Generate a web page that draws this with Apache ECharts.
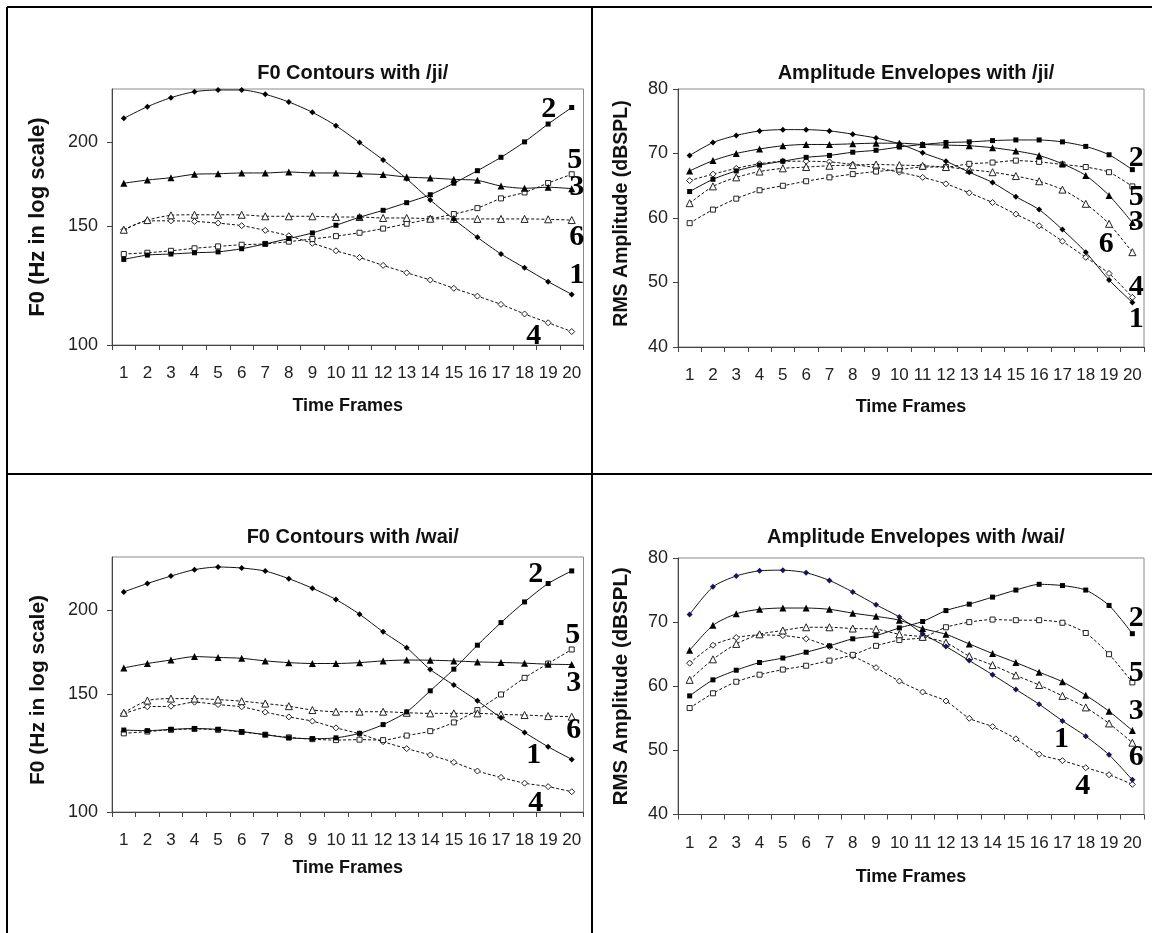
<!DOCTYPE html>
<html>
<head>
<meta charset="utf-8">
<script src="https://cdn.jsdelivr.net/npm/echarts@6/dist/echarts.min.js"></script>
<style>
  html, body { margin: 0; padding: 0; background: #fff; }
  #main { width: 1152px; height: 933px; }
</style>
</head>
<body>
<div id="main"></div>
<script>
// Time frame categories
const frames = ['1','2','3','4','5','6','7','8','9','10','11','12','13','14','15','16','17','18','19','20'];

// F0 (Hz) with /ji/, tones 1-6
const f0Ji1 = [217.1, 225.9, 233.0, 237.8, 239.2, 239.2, 235.7, 229.6, 221.6, 211.7, 199.8, 188.3, 176.5, 164.2, 153.7, 144.5, 136.5, 130.2, 124.2, 118.9];
const f0Ji2 = [134.0, 136.0, 136.5, 137.1, 137.5, 139.0, 141.3, 143.9, 146.7, 150.6, 154.8, 158.5, 162.7, 167.2, 173.9, 181.5, 190.0, 200.3, 212.9, 225.3];
const f0Ji3 = [173.9, 175.8, 177.2, 179.3, 179.6, 180.1, 180.1, 180.7, 180.1, 180.1, 179.6, 179.1, 177.6, 177.0, 176.2, 175.6, 172.2, 170.9, 171.5, 170.7];
const f0Ji4 = [148.3, 152.9, 152.9, 152.6, 151.7, 150.4, 148.0, 145.3, 141.6, 138.0, 134.9, 131.3, 128.0, 124.9, 121.4, 118.2, 114.9, 111.2, 107.9, 104.7];
const f0Ji5 = [136.5, 137.1, 138.0, 139.2, 140.1, 140.9, 141.3, 142.4, 143.7, 145.1, 146.8, 148.9, 151.4, 153.9, 156.5, 159.7, 165.1, 168.5, 174.0, 179.3];
const f0Ji6 = [148.3, 153.3, 155.8, 156.1, 156.1, 156.1, 155.3, 155.3, 155.3, 154.9, 154.9, 154.4, 154.4, 154.0, 153.9, 153.9, 153.9, 153.9, 153.7, 153.3];

// RMS amplitude (dBSPL) with /ji/
const ampJi1 = [69.7, 71.7, 72.8, 73.5, 73.7, 73.7, 73.5, 73.0, 72.4, 71.5, 70.1, 68.8, 67.1, 65.5, 63.3, 61.3, 58.2, 54.7, 50.4, 46.9];
const ampJi2 = [64.1, 66.0, 67.3, 68.2, 68.8, 69.4, 69.7, 70.2, 70.5, 71.0, 71.4, 71.7, 71.8, 72.0, 72.1, 72.1, 71.8, 71.1, 69.8, 67.5];
const ampJi3 = [67.3, 68.9, 70.0, 70.7, 71.2, 71.4, 71.4, 71.5, 71.6, 71.6, 71.4, 71.3, 71.2, 70.9, 70.4, 69.7, 68.4, 66.6, 63.5, 59.3];
const ampJi4 = [65.8, 66.8, 67.7, 68.4, 68.8, 68.8, 68.7, 68.3, 67.8, 67.1, 66.3, 65.3, 63.9, 62.4, 60.6, 58.8, 56.4, 53.9, 51.4, 47.7];
const ampJi5 = [59.2, 61.3, 63.0, 64.3, 65.0, 65.7, 66.3, 66.8, 67.2, 67.5, 67.9, 67.9, 68.4, 68.6, 68.9, 68.7, 68.3, 67.9, 67.1, 64.9];
const ampJi6 = [62.3, 64.9, 66.3, 67.2, 67.7, 67.9, 68.1, 68.2, 68.3, 68.2, 68.1, 67.9, 67.5, 67.1, 66.5, 65.7, 64.4, 62.2, 59.1, 54.7];

// F0 (Hz) with /wai/
const f0Wai1 = [212.9, 219.1, 224.8, 229.8, 231.9, 231.1, 228.7, 222.8, 215.6, 207.4, 197.2, 185.6, 175.7, 163.1, 154.6, 146.5, 138.2, 131.4, 125.1, 119.8];
const f0Wai2 = [132.5, 132.2, 132.8, 133.2, 132.8, 131.8, 130.4, 129.0, 128.6, 129.0, 131.0, 135.0, 141.0, 151.6, 163.3, 177.3, 191.6, 205.7, 219.1, 228.8];
const f0Wai3 = [164.0, 166.5, 168.5, 170.5, 170.0, 169.5, 168.0, 167.0, 166.5, 166.5, 167.0, 168.0, 168.5, 168.4, 168.0, 167.4, 167.1, 166.7, 166.1, 165.9];
const f0Wai4 = [140.1, 143.5, 143.8, 145.8, 144.6, 143.5, 140.9, 138.6, 136.6, 133.5, 130.8, 127.3, 124.3, 121.6, 118.6, 115.1, 112.6, 110.4, 109.1, 107.2];
const f0Wai5 = [131.0, 131.8, 132.6, 133.0, 132.6, 131.6, 130.4, 129.2, 128.4, 128.0, 128.2, 128.0, 130.0, 132.0, 136.0, 141.9, 149.7, 158.5, 166.5, 174.7];
const f0Wai6 = [140.6, 146.6, 147.6, 147.6, 147.1, 146.3, 145.1, 143.8, 141.9, 141.1, 141.1, 141.1, 140.6, 140.3, 140.3, 140.3, 139.8, 139.5, 139.0, 138.7];

// RMS amplitude (dBSPL) with /wai/
const ampWai1 = [71.2, 75.5, 77.2, 78.0, 78.1, 77.7, 76.5, 74.7, 72.7, 70.8, 68.2, 66.2, 64.0, 61.8, 59.5, 57.2, 54.6, 52.2, 49.3, 45.4];
const ampWai2 = [58.5, 61.0, 62.5, 63.7, 64.4, 65.3, 66.3, 67.4, 67.9, 69.1, 70.1, 71.8, 72.8, 73.9, 75.0, 75.9, 75.7, 75.0, 72.6, 68.2];
const ampWai3 = [65.6, 69.5, 71.3, 72.0, 72.2, 72.2, 72.0, 71.4, 70.9, 70.3, 69.0, 68.1, 66.6, 65.1, 63.7, 62.2, 60.7, 58.6, 56.1, 53.1];
const ampWai4 = [63.6, 66.4, 67.6, 68.0, 67.9, 67.4, 66.2, 64.7, 62.9, 60.8, 59.1, 57.7, 55.0, 53.7, 51.8, 49.4, 48.4, 47.3, 46.2, 44.7];
const ampWai5 = [56.6, 58.9, 60.7, 61.8, 62.6, 63.2, 64.0, 64.9, 66.3, 67.2, 67.6, 69.2, 70.0, 70.4, 70.3, 70.3, 69.9, 68.3, 65.0, 60.6];
const ampWai6 = [61.0, 64.2, 66.6, 68.1, 68.7, 69.2, 69.2, 69.0, 68.9, 68.1, 67.7, 66.8, 64.7, 63.3, 61.7, 60.2, 58.5, 56.7, 54.2, 51.2];

// Tone names written beside the curves
const toneNames = ['1', '2', '3', '4', '5', '6'];

// Axis tick values
const f0Ticks = [100, 150, 200];
const ampTicks = { min: 40, max: 80, interval: 10 };
const f0Range = { min: 100, max: 240 };

const SANS = "'Liberation Sans', Arial, sans-serif";
const SERIF = "'Liberation Serif', 'Times New Roman', serif";

// Marker and line look for tones 1..6
const toneStyles = [
  { symbol: 'diamond',  size: 6, open: false, dotted: false },
  { symbol: 'rect',     size: 5, open: false, dotted: false },
  { symbol: 'triangle', size: 7, open: false, dotted: false },
  { symbol: 'diamond',  size: 6, open: true,  dotted: true  },
  { symbol: 'rect',     size: 5, open: true,  dotted: true  },
  { symbol: 'triangle', size: 7, open: true,  dotted: true  }
];

// Panel layout: plot rectangle, caption placement, and where each tone number sits
// relative to one of its points (tone, frame index, dx, dy)
const panels = [
  {
    title: 'F0 Contours with /ji/', yName: 'F0 (Hz in log scale)', kind: 'f0',
    curves: [f0Ji1, f0Ji2, f0Ji3, f0Ji4, f0Ji5, f0Ji6],
    grid: { left: 112, top: 89, width: 471.5, height: 256 },
    titleY: 58, yNameGap: 63, yNameSize: 22, yNamePad: [0, 0, 0, 0], xNameGap: 52, labelMargin: 14,
    tags: [[2, 19, -23, 2], [5, 19, 3, -14], [3, 19, 5, -1], [6, 19, 5, 17], [1, 19, 5, -19], [4, 19, -38, 5]]
  },
  {
    title: 'Amplitude Envelopes with /ji/', yName: 'RMS Amplitude (dBSPL)', kind: 'amp',
    curves: [ampJi1, ampJi2, ampJi3, ampJi4, ampJi5, ampJi6],
    grid: { left: 678, top: 89, width: 466, height: 258 },
    titleY: 58, yNameGap: 46, yNameSize: 19.5, yNamePad: [0, 0, 0, 9], xNameGap: 51, labelMargin: 10,
    tags: [[2, 19, 4, -11], [5, 19, 4, 11], [3, 19, 4, 0], [6, 19, -26, -8], [4, 19, 4, -10], [1, 19, 4, 17]]
  },
  {
    title: 'F0 Contours with /wai/', yName: 'F0 (Hz in log scale)', kind: 'f0',
    curves: [f0Wai1, f0Wai2, f0Wai3, f0Wai4, f0Wai5, f0Wai6],
    grid: { left: 112, top: 557, width: 471.5, height: 255 },
    titleY: 522, yNameGap: 63, yNameSize: 21, yNamePad: [0, 11, 0, 0], xNameGap: 47, labelMargin: 14,
    tags: [[2, 19, -36, 3], [5, 19, 1, -14], [3, 19, 2, 19], [6, 19, 2, 14], [1, 19, -38, -4], [4, 19, -36, 12]]
  },
  {
    title: 'Amplitude Envelopes with /wai/', yName: 'RMS Amplitude (dBSPL)', kind: 'amp',
    curves: [ampWai1, ampWai2, ampWai3, ampWai4, ampWai5, ampWai6],
    grid: { left: 678, top: 558, width: 466, height: 256.5 },
    titleY: 522, yNameGap: 46, yNameSize: 20.5, yNamePad: [0, 0, 0, 0], xNameGap: 54, labelMargin: 10,
    tags: [[2, 19, 4, -15], [5, 19, 4, -9], [3, 19, 4, -19], [6, 19, 4, 15], [1, 16, -1, 18], [4, 17, -3, 19]],
    firstToneColor: '#15155e'
  }
];

const chart = echarts.init(document.getElementById('main'), null, { renderer: 'canvas' });

const grids = [], xAxes = [], yAxes = [], titles = [], series = [];

panels.forEach((p, pi) => {
  grids.push(Object.assign({ show: true, borderColor: '#8a8a8a', borderWidth: 1, backgroundColor: 'transparent' }, p.grid));

  titles.push({
    text: p.title,
    left: p.grid.left + p.grid.width / 2,
    top: p.titleY,
    textAlign: 'center',
    textStyle: { fontFamily: SANS, fontSize: 20, fontWeight: 'bold', color: '#111' }
  });

  xAxes.push({
    type: 'category', gridIndex: pi, data: frames, boundaryGap: true,
    axisLine: { show: true, lineStyle: { color: '#444', width: 1 } },
    axisTick: { show: true, length: 5, lineStyle: { color: '#444' } },
    axisLabel: { interval: 0, margin: 20, fontFamily: SANS, fontSize: 17, color: '#222' },
    splitLine: { show: false },
    name: 'Time Frames', nameLocation: 'middle', nameGap: p.xNameGap,
    nameTextStyle: { fontFamily: SANS, fontSize: 18, fontWeight: 'bold', color: '#111' }
  });

  const yBase = {
    gridIndex: pi,
    axisLine: { show: true, lineStyle: { color: '#444', width: 1 } },
    splitLine: { show: false },
    name: p.yName, nameLocation: 'middle', nameRotate: 90, nameGap: p.yNameGap,
    nameTextStyle: { fontFamily: SANS, fontSize: p.yNameSize, fontWeight: 'bold', color: '#111', padding: p.yNamePad }
  };
  if (p.kind === 'f0') {
    yAxes.push(Object.assign(yBase, {
      type: 'log', logBase: 10, min: f0Range.min, max: f0Range.max,
      axisTick: { show: true, length: 5, customValues: f0Ticks, lineStyle: { color: '#444' } },
      axisLabel: { customValues: f0Ticks, margin: p.labelMargin, fontFamily: SANS, fontSize: 18, color: '#222' }
    }));
  } else {
    yAxes.push(Object.assign(yBase, {
      type: 'value', min: ampTicks.min, max: ampTicks.max, interval: ampTicks.interval,
      axisTick: { show: true, length: 5, lineStyle: { color: '#444' } },
      axisLabel: { margin: p.labelMargin, fontFamily: SANS, fontSize: 18, color: '#222' }
    }));
  }

  p.curves.forEach((values, ci) => {
    const st = toneStyles[ci];
    const tone = ci + 1;
    const tag = p.tags.find(t => t[0] === tone);
    const data = values.map((v, i) => {
      if (tag && tag[1] === i) {
        return {
          value: v,
          label: {
            show: true, formatter: toneNames[ci], position: 'inside',
            offset: [tag[2], tag[3]],
            fontFamily: SERIF, fontWeight: 'bold', fontSize: 30, color: '#000'
          }
        };
      }
      return v;
    });
    const markColor = (ci === 0 && p.firstToneColor) ? p.firstToneColor : '#000';
    series.push({
      type: 'line', name: 'Tone ' + tone, xAxisIndex: pi, yAxisIndex: pi,
      data: data, smooth: 0.25, clip: false,
      symbol: st.symbol, symbolSize: st.size, showSymbol: true,
      lineStyle: { color: '#111', width: 1, type: st.dotted ? [3, 2] : 'solid' },
      itemStyle: st.open
        ? { color: '#fff', borderColor: '#222', borderWidth: 1 }
        : { color: markColor, borderColor: markColor, borderWidth: 0 },
      emphasis: { disabled: true },
      z: st.dotted ? 2 : 3
    });
  });
});

// Table rules separating the four panels
const rule = (x1, y1, x2, y2) => ({
  type: 'line', shape: { x1, y1, x2, y2 },
  style: { stroke: '#000', lineWidth: 2 }, silent: true, z: 100
});

chart.setOption({
  backgroundColor: '#fff',
  animation: false,
  title: titles,
  grid: grids,
  xAxis: xAxes,
  yAxis: yAxes,
  series: series,
  graphic: [
    rule(7, 7, 1152, 7),
    rule(7, 7, 7, 933),
    rule(592, 7, 592, 933),
    rule(7, 474, 1152, 474)
  ]
});
</script>
</body>
</html>
